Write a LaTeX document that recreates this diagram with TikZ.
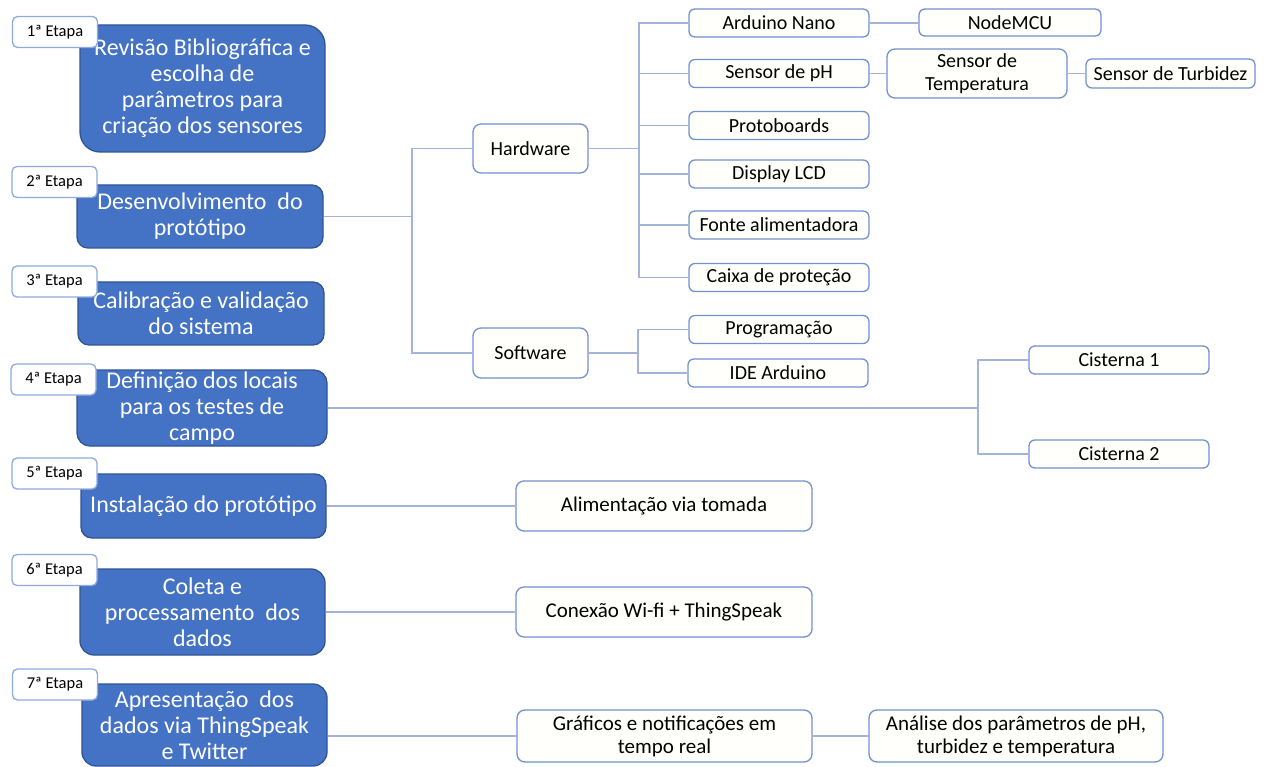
\documentclass[tikz,border=0pt]{standalone}
\usepackage{fontspec}
\setmainfont{Carlito}
\definecolor{bfill}{HTML}{4472C4}
\definecolor{bdr}{HTML}{2F5597}
\definecolor{lcol}{HTML}{A3B3DA}
\definecolor{ibdr}{HTML}{7390CF}
\definecolor{tbdr}{HTML}{8FAADC}
\definecolor{ifill}{HTML}{FFFFFB}
\begin{document}
\begin{tikzpicture}[x=1pt,y=-1pt,
  stagebox/.style={draw=bdr, fill=bfill, line width=1.3pt, rounded corners=#1, text=white, align=center,
    font=\fontsize{24}{26}\selectfont, inner sep=0pt},
  stagebox/.default=12pt,
  tagbox/.style={draw=tbdr, fill=white, line width=1.3pt, rounded corners=5pt, text=black,
    font=\fontsize{16.5}{18}\selectfont, inner sep=0pt, minimum width=85pt, minimum height=31pt},
  itembox/.style={draw=ibdr, fill=ifill, line width=1.3pt, rounded corners=#1, text=black, align=center,
    font=\fontsize{20}{23}\selectfont, inner sep=0pt},
  itembox/.default=6pt,
  conn/.style={draw=lcol, line width=1.2pt}]
\useasboundingbox (0,0) rectangle (1272,767);

% stage boxes
\node[stagebox=20pt, minimum width=245pt, minimum height=127pt] (b1) at (202.5,88.5)
  {Revisão Bibliográfica e\\escolha de\\parâmetros para\\criação dos sensores};
\node[stagebox=11pt, minimum width=246pt, minimum height=63pt] (b2) at (200,216.5)
  {Desenvolvimento\ \ do\\protótipo};
\node[stagebox=11pt, minimum width=246pt, minimum height=63pt] (b3) at (201,313.5)
  {Calibração e validação\\do sistema};
\node[stagebox=13pt, minimum width=250pt, minimum height=76pt] (b4) at (202,408)
  {Definição dos locais\\para os testes de\\campo};
\node[stagebox=11pt, minimum width=245pt, minimum height=64pt] (b5) at (203.5,506)
  {Instalação do protótipo};
\node[stagebox=14pt, minimum width=245pt, minimum height=86pt] (b6) at (202.5,612)
  {Coleta e\\processamento\ \ dos\\dados};
\node[stagebox=14pt, minimum width=245pt, minimum height=82pt] (b7) at (204.5,725)
  {Apresentação\ \ dos\\dados via ThingSpeak\\e Twitter};

% tags
\node[tagbox] (t1) at (55,32) {1ª Etapa};
\node[tagbox] (t2) at (54.5,182) {2ª Etapa};
\node[tagbox] (t3) at (54.5,281.5) {3ª Etapa};
\node[tagbox] (t4) at (53.5,379.5) {4ª Etapa};
\node[tagbox] (t5) at (54.5,473.5) {5ª Etapa};
\node[tagbox] (t6) at (54.5,570) {6ª Etapa};
\node[tagbox] (t7) at (55,684.5) {7ª Etapa};

% hardware / software
\node[itembox=8pt, minimum width=115pt, minimum height=49pt] (hw) at (530.5,148.5) {Hardware};
\node[itembox=8pt, minimum width=115pt, minimum height=50pt] (sw) at (530.5,353) {Software};

% hardware items
\node[itembox, minimum width=180pt, minimum height=28pt] (an) at (779,23) {Arduino Nano};
\node[itembox, minimum width=180pt, minimum height=28pt] (ph) at (779,73.5) {Sensor de pH};
\node[itembox, minimum width=180pt, minimum height=28pt] (pb) at (779,125.5) {Protoboards};
\node[itembox, minimum width=180pt, minimum height=28pt] (dl) at (779,174) {Display LCD};
\node[itembox, minimum width=180pt, minimum height=28pt] (fa) at (779,225) {Fonte alimentadora};
\node[itembox, minimum width=180pt, minimum height=28pt] (cp) at (779,277.5) {Caixa de proteção};

\node[itembox, minimum width=182pt, minimum height=27pt] (nm) at (1010,22.5) {NodeMCU};
\node[itembox=8pt, minimum width=180pt, minimum height=49pt] (st) at (977,73.5) {Sensor de\\Temperatura};
\node[itembox, minimum width=169pt, minimum height=29pt] (tb) at (1170.5,73.5) {Sensor de Turbidez};

% software items
\node[itembox, minimum width=180pt, minimum height=28pt] (pr) at (779,329.5) {Programação};
\node[itembox, minimum width=180pt, minimum height=28pt] (ide) at (778,373) {IDE Arduino};

% cisternas
\node[itembox, minimum width=180pt, minimum height=28pt] (c1) at (1119,360) {Cisterna 1};
\node[itembox, minimum width=180pt, minimum height=28pt] (c2) at (1119,454) {Cisterna 2};

% lower right
\node[itembox=8pt, minimum width=296pt, minimum height=50pt, font=\fontsize{21}{23}\selectfont] (al) at (664,506) {Alimentação via tomada};
\node[itembox=8pt, minimum width=296pt, minimum height=50pt, font=\fontsize{21}{23}\selectfont] (cw) at (664,612) {Conexão Wi-fi + ThingSpeak};
\node[itembox=8pt, minimum width=295pt, minimum height=52pt, font=\fontsize{21}{23}\selectfont] (gr) at (664.5,736) {Gráficos e notificações em\\tempo real};
\node[itembox=8pt, minimum width=294pt, minimum height=52pt, font=\fontsize{21}{23}\selectfont] (ap) at (1016,736) {Análise dos parâmetros de pH,\\turbidez e temperatura};

% connectors
\coordinate (j1) at (412,216.5);
\coordinate (j2) at (639,148.5);
\coordinate (j3) at (638,353);
\coordinate (j4) at (978,408);

\draw[conn] (b2.east) -- (j1);
\draw[conn] (hw.west) -| (j1) |- (sw.west);

\draw[conn] (hw.east) -- (j2);
\draw[conn] (j2) |- (an.west);
\draw[conn] (j2) |- (ph.west);
\draw[conn] (j2) |- (pb.west);
\draw[conn] (j2) |- (dl.west);
\draw[conn] (j2) |- (fa.west);
\draw[conn] (j2) |- (cp.west);

\draw[conn] (an.east) -- (an.east -| nm.west);
\draw[conn] (ph.east) -- (st.west);
\draw[conn] (st.east) -- (tb.west);

\draw[conn] (sw.east) -- (j3);
\draw[conn] (j3) |- (pr.west);
\draw[conn] (j3) |- (ide.west);

\draw[conn] (b4.east) -- (j4);
\draw[conn] (j4) |- (c1.west);
\draw[conn] (j4) |- (c2.west);

\draw[conn] (b5.east) -- (al.west);
\draw[conn] (b6.east) -- (cw.west);
\draw[conn] (gr.west -| b7.east) -- (gr.west);
\draw[conn] (gr.east) -- (ap.west);
\end{tikzpicture}
\end{document}
